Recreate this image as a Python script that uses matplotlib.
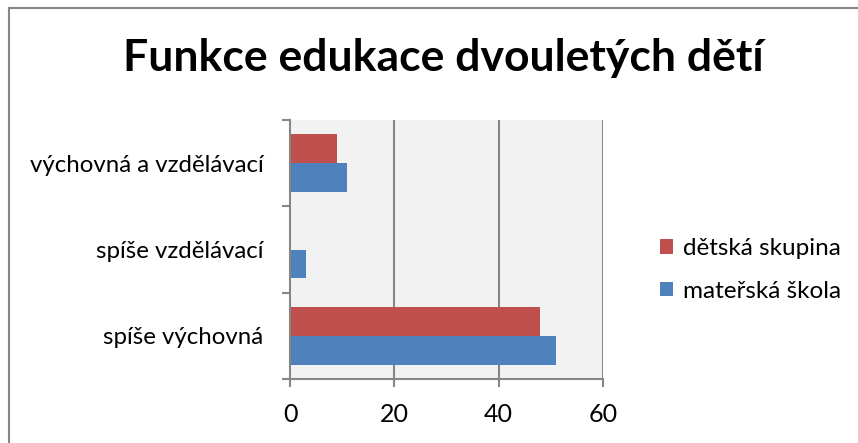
import matplotlib.pyplot as plt
import matplotlib.lines as mlines
import numpy as np

plt.rcParams['font.family'] = ['Lato', 'DejaVu Sans']

categories = ['spíše výchovná', 'spíše vzdělávací', 'výchovná a vzdělávací']
materska_skola = [51, 3, 11]
detska_skupina = [48, 0, 9]
x_ticks = [0, 20, 40, 60]

blue = '#4F81BD'
red = '#C0504D'
gray = '#868686'

fig = plt.figure(figsize=(8.58, 4.43), dpi=100)
W, H = 858, 443

# outer chart border (only top and left edges are inside the picture)
fig.add_artist(mlines.Line2D([9 / W, 9 / W], [0, 1 - 8 / H], transform=fig.transFigure,
                             color=gray, lw=1.5))
fig.add_artist(mlines.Line2D([9 / W, 1], [1 - 8 / H, 1 - 8 / H], transform=fig.transFigure,
                             color=gray, lw=1.5))

ax = fig.add_axes([290 / W, 1 - 379 / H, (603 - 290) / W, (379 - 120) / H])
ax.set_facecolor('#F2F2F2')

y = np.arange(len(categories))
h = 0.335
ax.barh(y + h / 2, detska_skupina, height=h, color=red, label='dětská skupina', zorder=3)
ax.barh(y - h / 2, materska_skola, height=h, color=blue, label='mateřská škola', zorder=3)

ax.set_xlim(0, 60)
ax.set_ylim(-0.5, 2.5)
ax.set_xticks(x_ticks)
ax.set_xticklabels([str(v) for v in x_ticks], fontsize=18)
ax.set_yticks([-0.5, 0.5, 1.5, 2.5])
ax.set_yticklabels([])
ax.set_yticks(y, minor=True)
ax.set_yticklabels(categories, minor=True, fontsize=17.3)
ax.tick_params(axis='y', which='minor', length=0, pad=19)
ax.tick_params(axis='x', which='major', pad=11)
ax.tick_params(axis='both', which='major', length=6, width=1.5, color=gray)

for v in x_ticks[1:]:
    ax.axvline(v, color=gray, lw=1.5, zorder=2)
for s in ['top', 'right']:
    ax.spines[s].set_visible(False)
for s in ['left', 'bottom']:
    ax.spines[s].set_color(gray)
    ax.spines[s].set_linewidth(1.5)
    ax.spines[s].set_zorder(4)

fig.text(443.5 / W, 1 - 58 / H, 'Funkce edukace dvouletých dětí', ha='center', va='center',
         fontsize=32, fontweight='bold')

fig.legend(loc='center left', bbox_to_anchor=(660 / W, 1 - 270 / H), frameon=False,
           fontsize=17.5, handlelength=0.53, handleheight=0.53, handletextpad=0.42,
           labelspacing=0.9, borderpad=0, borderaxespad=0)

fig.savefig('out.png', dpi=100)
